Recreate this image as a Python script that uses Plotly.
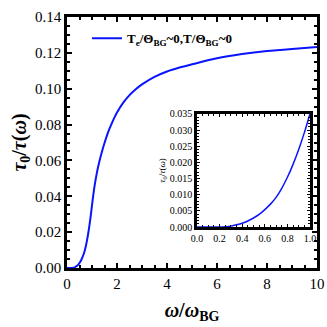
import plotly.graph_objects as go

# values
omega = [0, 0.1, 0.2, 0.25, 0.3, 0.35, 0.4, 0.45, 0.5, 0.55, 0.6, 0.65, 0.7, 0.75,
         0.8, 0.85, 0.9, 0.95, 1.0, 1.1, 1.2, 1.3, 1.4, 1.5, 1.6, 1.7, 1.8, 1.9,
         2.0, 2.25, 2.5, 2.75, 3.0, 3.5, 4.0, 4.5, 5.0, 6.0, 7.0, 8.0, 9.0, 10.0]
ratio = [0, 0, 0, 0.0001, 0.0003, 0.0007, 0.0012, 0.0019, 0.0028, 0.0039, 0.0054,
         0.0071, 0.0092, 0.0120, 0.0154, 0.0194, 0.0240, 0.0292, 0.0350, 0.0455,
         0.0535, 0.0597, 0.0650, 0.0697, 0.0740, 0.0777, 0.0810, 0.0840, 0.0867,
         0.0922, 0.0964, 0.0997, 0.1024, 0.1066, 0.1096, 0.1118, 0.1136, 0.1170,
         0.1193, 0.1210, 0.1222, 0.1232]

legend_name = "<b>T<sub>e</sub>/Θ<sub>BG</sub>~0,T/Θ<sub>BG</sub>~0</b>"
font = "Liberation Serif"

fig = go.Figure()
fig.add_trace(go.Scatter(x=omega, y=ratio, mode="lines", name=legend_name,
                         line=dict(color="#0a14ff", width=2, shape="spline", smoothing=0.8)))
fig.add_trace(go.Scatter(x=omega, y=ratio, mode="lines", showlegend=False,
                         xaxis="x2", yaxis="y2",
                         line=dict(color="#0a14ff", width=1.5, shape="spline", smoothing=0.8)))

frame = dict(showline=True, linewidth=2.5, linecolor="black", mirror="allticks",
             ticks="inside", tickcolor="black", showgrid=False, zeroline=False,
             automargin=False)

fig.update_layout(
    width=327, height=327,
    margin=dict(l=67, r=10, t=17, b=59),
    plot_bgcolor="white", paper_bgcolor="white",
    font=dict(family=font, color="black"),
    xaxis=dict(frame, range=[0, 10], dtick=2, ticklen=5, tickwidth=1.5,
               tickfont=dict(size=15),
               minor=dict(ticks="inside", dtick=0.5, ticklen=3, tickcolor="black"),
               title=dict(text="<b><i>ω</i>/<i>ω</i><sub>BG</sub></b>",
                          font=dict(size=20), standoff=13)),
    yaxis=dict(frame, range=[0, 0.14], dtick=0.02, tickformat=".2f", ticklen=5,
               tickwidth=1.5, tickfont=dict(size=15),
               minor=dict(ticks="inside", dtick=0.005, ticklen=3, tickcolor="black"),
               title=dict(text="<b><i>τ</i><sub>0</sub>/<i>τ</i>(<i>ω</i>)</b>",
                          font=dict(size=20), standoff=4)),
    xaxis2=dict(frame, domain=[0.52, 0.972], anchor="y2", range=[0, 1], dtick=0.2,
                tickformat=".1f", ticklen=3, tickfont=dict(size=10),
                minor=dict(ticks="inside", dtick=0.05, ticklen=2, tickcolor="black")),
    yaxis2=dict(frame, domain=[0.163, 0.614], anchor="x2", range=[0, 0.035],
                dtick=0.005, tickformat=".3f", ticklen=3, tickfont=dict(size=10),
                minor=dict(ticks="inside", dtick=0.001, ticklen=2, tickcolor="black"),
                title=dict(text="<i>τ</i><sub>0</sub>/<i>τ</i>(<i>ω</i>)",
                           font=dict(size=9), standoff=3)),
    legend=dict(x=0.08, y=0.975, xanchor="left", yanchor="top",
                bgcolor="rgba(0,0,0,0)", font=dict(size=13)),
)

# the page body has a default margin that pushes the figure off the window
fig.write_html("out.html", config={"displayModeBar": False},
               post_script="document.body.style.margin='0';")
